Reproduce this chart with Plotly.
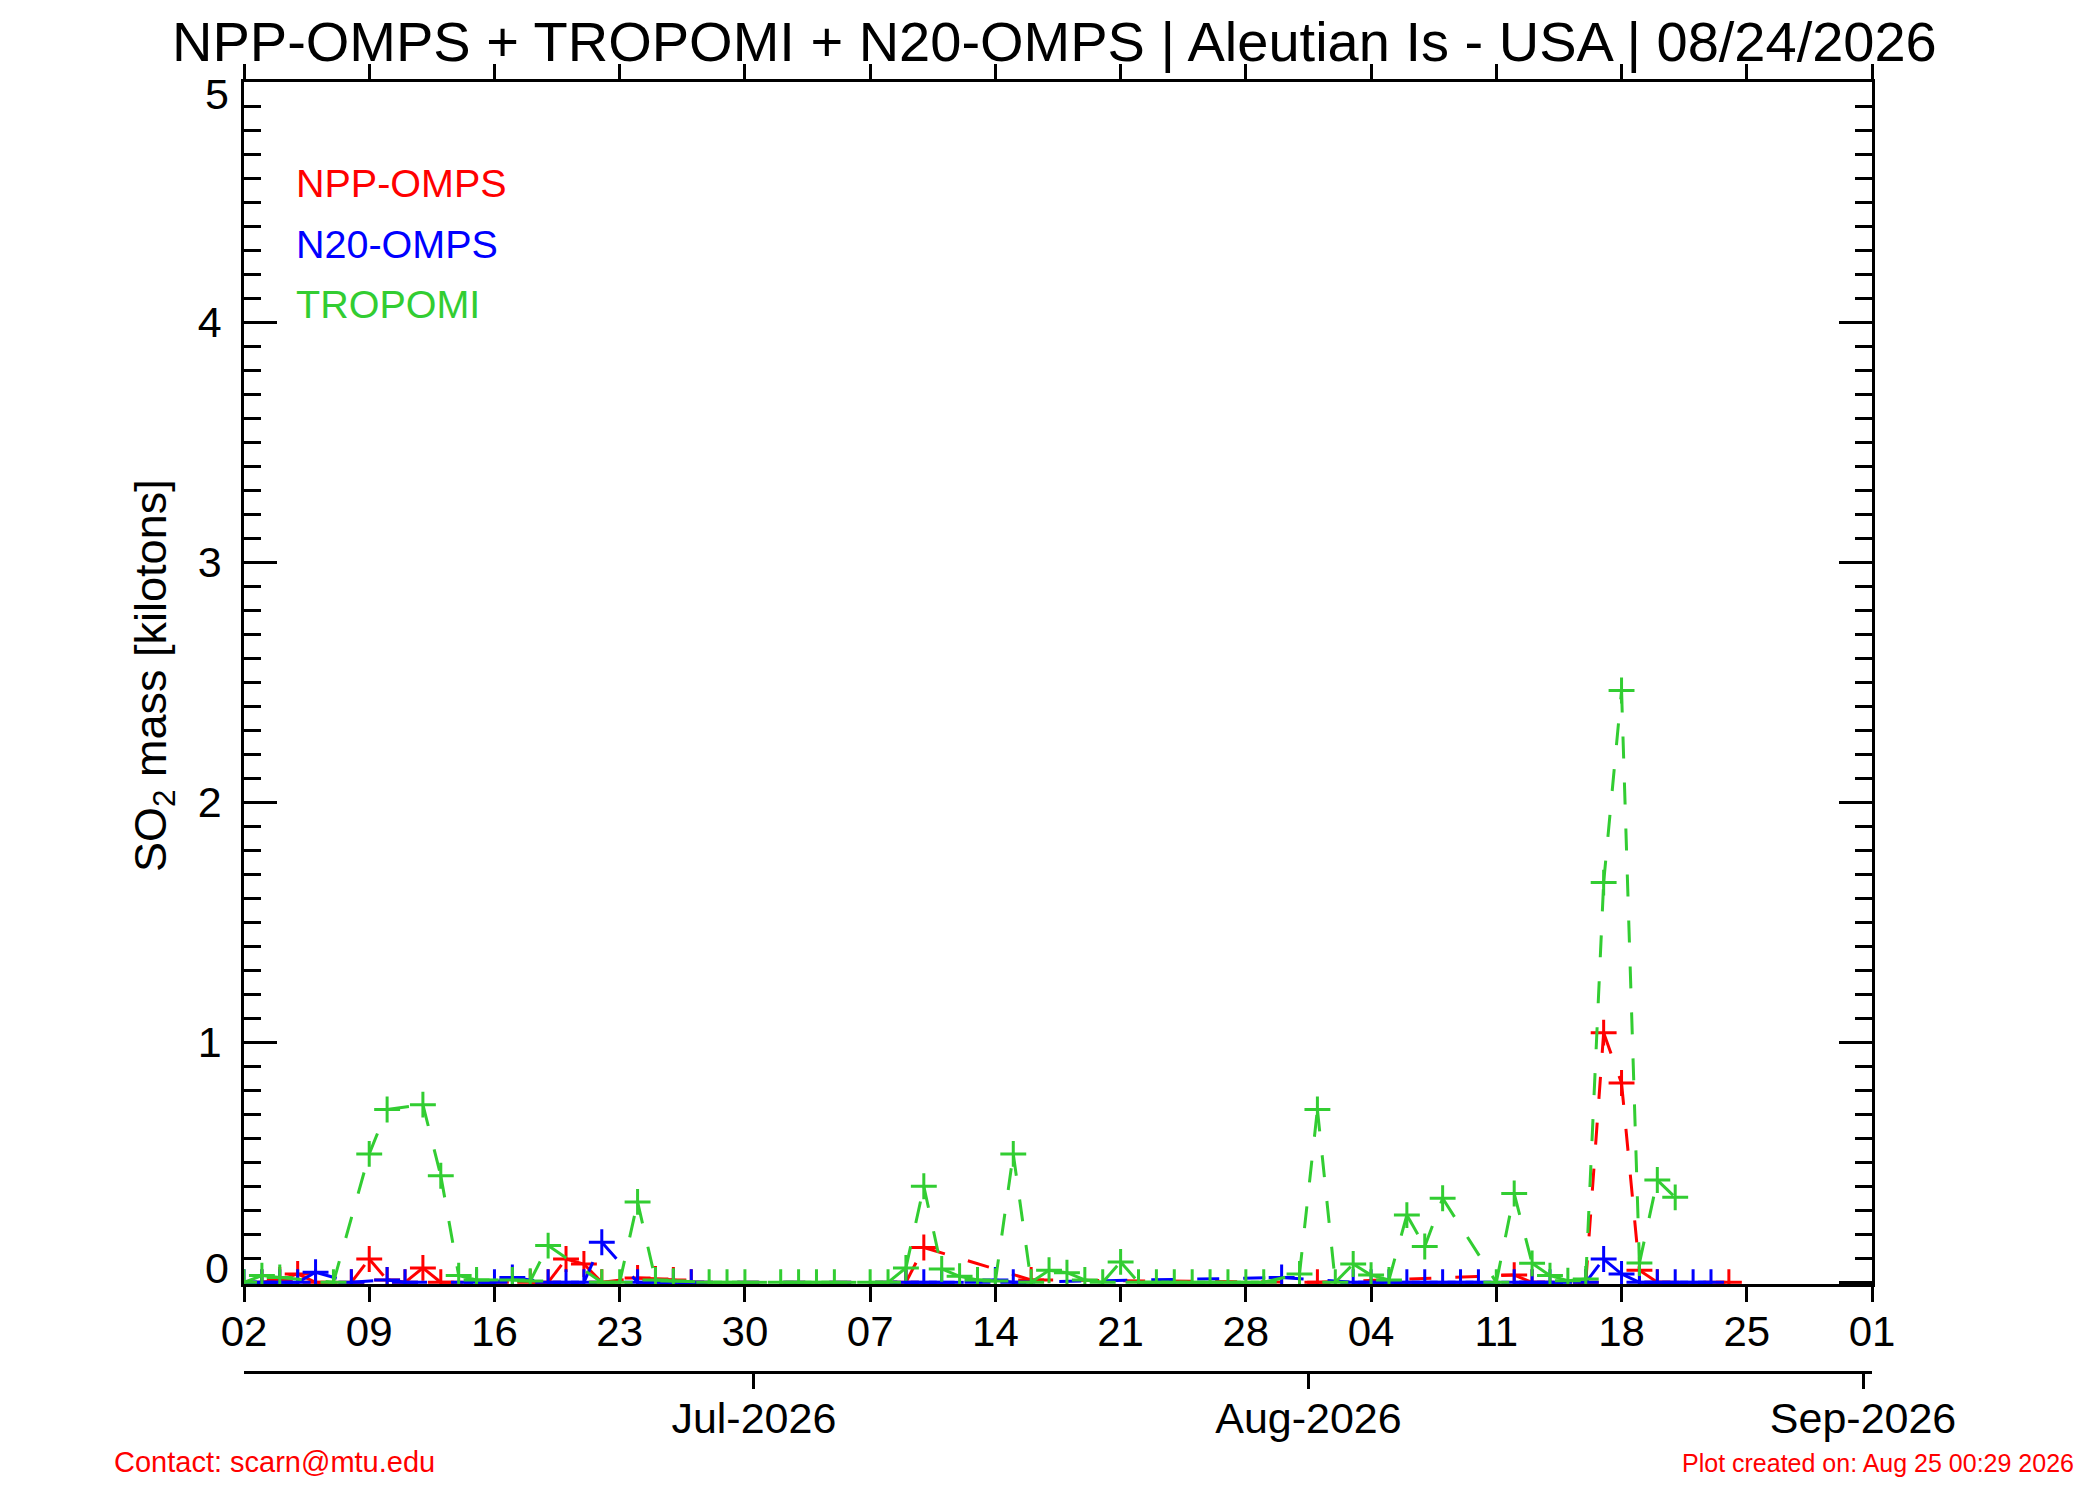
import pandas as pd
import plotly.graph_objects as go

# ---------------- data ----------------
dates = [d.strftime("%Y-%m-%d") for d in pd.date_range("2026-06-02", "2026-08-24", freq="D")]

N = None
# NPP-OMPS SO2 mass [kt]
npp_omps = [
    N, 0.0, 0.01, 0.035, 0.0, N, 0.0, 0.097, 0.01, 0.0,          # Jun 02-11
    0.06, 0.0, N, N, N, N, 0.0, 0.0, 0.097, 0.076,             # Jun 12-21
    0.0, N, 0.018, 0.014, 0.01, 0.0, N, N, N, N,               # Jun 22-Jul 01
    N, N, N, N, N, N, N, 0.0, 0.145, N,                        # Jul 02-11
    N, N, N, N, 0.01, N, N, N, N, N,                           # Jul 12-21
    N, N, N, N, N, N, N, N, N, N,                              # Jul 22-31
    0.0, N, N, N, N, N, N, N, N, N,                            # Aug 01-10
    N, 0.03, 0.0, N, N, 0.0, 1.04, 0.83, 0.05, 0.0,            # Aug 11-20
    N, N, N, 0.0,                                              # Aug 21-24
]
# N20-OMPS SO2 mass [kt]
n20_omps = [
    0.0, 0.0, 0.0, 0.0, 0.042, N, 0.0, N, 0.01, 0.0,           # Jun 02-11
    N, N, N, 0.0, 0.0, 0.02, N, 0.0, 0.0, 0.0,                 # Jun 12-21
    0.167, N, 0.0, 0.0, 0.0, 0.0, N, N, N, N,                  # Jun 22-Jul 01
    N, N, N, N, N, N, N, 0.0, 0.0, 0.0,                        # Jul 02-11
    N, 0.0, 0.01, 0.0, N, N, N, N, N, N,                       # Jul 12-21
    N, N, N, N, N, N, N, N, 0.02, N,                           # Jul 22-31
    N, N, 0.0, 0.0, 0.0, 0.0, 0.0, 0.0, 0.0, 0.0,              # Aug 01-10
    N, 0.0, 0.0, 0.0, N, 0.0, 0.097, 0.035, 0.0, 0.0,          # Aug 11-20
    0.0, 0.0, 0.0, N,                                          # Aug 21-24
]
# TROPOMI SO2 mass [kt]
tropomi = [
    0.0, 0.028, 0.02, N, N, 0.0, N, 0.535, 0.72, N,            # Jun 02-11
    0.74, 0.444, 0.028, 0.01, N, 0.01, 0.005, 0.153, N, N,     # Jun 12-21
    0.0, 0.0, 0.335, 0.01, 0.005, N, 0.0, 0.0, 0.0, N,         # Jun 22-Jul 01
    0.0, 0.0, 0.0, 0.0, N, 0.0, 0.0, 0.06, 0.40, 0.056,        # Jul 02-11
    0.025, 0.01, 0.005, 0.535, 0.0, 0.05, 0.04, 0.01, 0.0, 0.085,  # Jul 12-21
    0.0, 0.0, 0.0, 0.0, 0.0, 0.0, 0.0, 0.0, N, 0.035,          # Jul 22-31
    0.72, 0.0, 0.076, 0.03, 0.01, 0.28, 0.149, 0.35, N, N,     # Aug 01-10
    0.0, 0.37, 0.079, 0.028, 0.007, 0.014, 1.665, 2.465, 0.08, 0.426,  # Aug 11-20
    0.354, N, N, N,                                            # Aug 21-24
]

series_names = ["NPP-OMPS", "N20-OMPS", "TROPOMI"]
series_values = [npp_omps, n20_omps, tropomi]
series_colors = ["#FF0000", "#0000FF", "#32CD32"]

y_tick_vals = [0, 1, 2, 3, 4, 5]
y_tick_text = ["0", "1", "2", "3", "4", "5"]
month_ticks = ["2026-07-01", "2026-08-01", "2026-09-01"]
month_labels = ["Jul-2026", "Aug-2026", "Sep-2026"]

title_text = "NPP-OMPS + TROPOMI + N20-OMPS | Aleutian Is - USA | 08/24/2026"
contact_text = "Contact: scarn@mtu.edu"
created_text = "Plot created on: Aug 25 00:29 2026"

# ---------------- geometry helpers ----------------
W, H = 2100, 1500
L, R, T, B = 236, 236, 74, 136
PW, PH = W - L - R, H - T - B
plot_bottom_px = 1276


def px_x(px):
    return (px - L) / PW


def px_y(py):
    return (H - B - py) / PH


FONT = "Liberation Sans, Arial, Helvetica, sans-serif"

fig = go.Figure()

# lines: each segment drawn separately so the dash pattern restarts at each vertex
for name, vals, col in zip(series_names, series_values, series_colors):
    pts = [(d, v) for d, v in zip(dates, vals) if v is not None]
    for (d1, v1), (d2, v2) in zip(pts[:-1], pts[1:]):
        fig.add_trace(go.Scatter(
            x=[d1, d2], y=[v1, v2], mode="lines",
            line=dict(color=col, width=3, dash="22px,24px"),
            showlegend=False, hoverinfo="skip"))
    fig.add_trace(go.Scatter(
        x=dates, y=vals, mode="markers", name=name,
        marker=dict(symbol="cross-thin", size=18.5, color=col,
                    line=dict(color=col, width=3)),
        showlegend=False))

# dummy trace for the month axis
fig.add_trace(go.Scatter(x=month_ticks, y=[None] * len(month_ticks), xaxis="x2",
                         yaxis="y", mode="markers", showlegend=False, hoverinfo="skip"))

axis_common = dict(showgrid=False, zeroline=False, linecolor="black", linewidth=2.5,
                   tickcolor="black", tickwidth=2.5, showline=True)

# end labels (0 and 5) are nudged inside the axis range, as in the original
inner_text = [t if 0 < v < 5 else "" for v, t in zip(y_tick_vals, y_tick_text)]

fig.update_layout(
    width=W, height=H,
    margin=dict(l=L, r=R, t=T, b=B, pad=0),
    paper_bgcolor="white", plot_bgcolor="white",
    font=dict(family=FONT, color="black"),
    xaxis=dict(
        type="date", range=["2026-06-02", "2026-09-01"],
        tick0="2026-06-02", dtick=7 * 86400000, tickformat="%d",
        ticks="outside", ticklen=15, mirror="ticks", anchor="y",
        tickfont=dict(size=42, family=FONT, color="black"),
        ticklabelstandoff=-6, layer="below traces", **axis_common),
    xaxis2=dict(
        type="date", overlaying="x", anchor="free", position=0, side="bottom",
        range=["2026-06-02 12:00", "2026-09-01 12:00"],
        tickmode="array", tickvals=month_ticks, ticktext=month_labels,
        ticks="outside", ticklen=15,
        tickfont=dict(size=43, family=FONT, color="black"),
        ticklabelstandoff=-7, **axis_common),
    yaxis=dict(
        range=[-0.007, 5], domain=[px_y(plot_bottom_px), 1],
        tickmode="array", tickvals=y_tick_vals, ticktext=inner_text,
        ticks="inside", ticklen=33, mirror="ticks",
        minor=dict(dtick=0.1, ticks="inside", ticklen=17, tickwidth=2.5, tickcolor="black"),
        tickfont=dict(size=43, family=FONT, color="black"),
        ticklabelstandoff=11, layer="below traces", **axis_common),
)

ann = []
ann.append(dict(text=title_text, x=px_x(1046), y=px_y(33), xref="paper", yref="paper",
                xanchor="center", yanchor="middle", showarrow=False,
                font=dict(size=56, family=FONT, color="black")))
# y end labels
for v, t in zip(y_tick_vals, y_tick_text):
    if v in (0, 5):
        ann.append(dict(text=t, x=px_x(223), y=v, xref="paper", yref="y",
                        xanchor="right", yanchor="middle", showarrow=False,
                        yshift=14 if v == 0 else -12,
                        font=dict(size=43, family=FONT, color="black")))
legend_y = [175, 236, 296]
for name, col, yy in zip(series_names, series_colors, legend_y):
    ann.append(dict(text=name, x=px_x(286), y=px_y(yy), xref="paper", yref="paper",
                    xanchor="left", yanchor="middle", showarrow=False,
                    font=dict(size=39.5, family=FONT, color=col)))
ann.append(dict(text="SO<sub>2</sub> mass [kilotons]", x=px_x(146), y=px_y(668),
                xref="paper", yref="paper", xanchor="center", yanchor="middle",
                textangle=-90, showarrow=False, font=dict(size=45, family=FONT, color="black")))
ann.append(dict(text=contact_text, x=px_x(104), y=px_y(1454), xref="paper", yref="paper",
                xanchor="left", yanchor="middle", showarrow=False,
                font=dict(size=29, family=FONT, color="#FF0000")))
ann.append(dict(text=created_text, x=px_x(2068), y=px_y(1455), xref="paper", yref="paper",
                xanchor="right", yanchor="middle", showarrow=False,
                font=dict(size=25, family=FONT, color="#FF0000")))
fig.update_layout(annotations=ann)

fig.write_html("out.html")
